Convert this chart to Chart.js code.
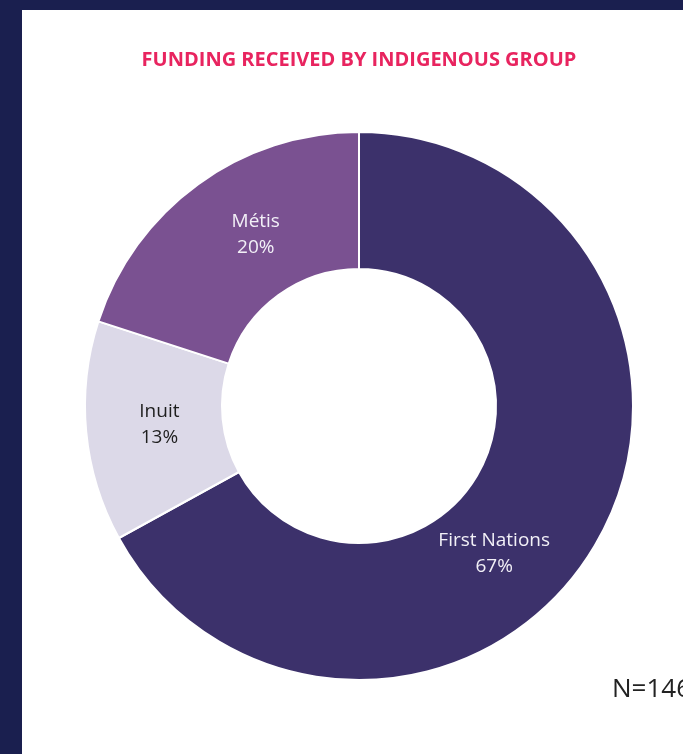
<!DOCTYPE html>
<html>
<head>
<meta charset="utf-8">
<script src="https://cdn.jsdelivr.net/npm/chart.js@4/dist/chart.umd.min.js"></script>
<style>
  html, body { margin: 0; padding: 0; }
  body { width: 683px; height: 754px; background: #1a1f4f; overflow: hidden; position: relative; font-family: "Open Sans", sans-serif; }
  #card { position: absolute; left: 22px; top: 10px; width: 674px; height: 744px; background: #fff; }
  #sample { position: absolute; left: 590px; top: 659px; font-size: 26px; color: #222; white-space: nowrap; }
</style>
</head>
<body>
<div id="card">
  <canvas id="groupChart" width="674" height="744"></canvas>
  <div id="sample">N=146</div>
</div>
<script>
const groups = ["First Nations", "Inuit", "Métis"];
const shares = [67, 13, 20];
const sliceColors = ["#3c316b", "#dcd9e8", "#7a5191"];
const labelColors = ["#f2f0f7", "#1e1e1e", "#f2f0f7"];
const labelShift = [17, 0, 5]; // degrees, nudges labels off the slice middle

const sliceLabels = {
  id: "sliceLabels",
  afterDatasetsDraw(chart) {
    const ctx = chart.ctx;
    const meta = chart.getDatasetMeta(0);
    ctx.save();
    ctx.font = "19px 'Open Sans'";
    ctx.textAlign = "center";
    ctx.textBaseline = "middle";
    meta.data.forEach((arc, i) => {
      const p = arc.getProps(["x", "y", "startAngle", "endAngle", "innerRadius", "outerRadius"], true);
      const a = (p.startAngle + p.endAngle) / 2 + labelShift[i] * Math.PI / 180;
      const r = (p.innerRadius + p.outerRadius) / 2 - 5;
      const x = p.x + Math.cos(a) * r;
      const y = p.y + Math.sin(a) * r;
      ctx.fillStyle = labelColors[i];
      ctx.fillText(groups[i], x, y - 13);
      ctx.fillText(shares[i] + "%", x, y + 13);
    });
    ctx.restore();
  }
};

new Chart(document.getElementById("groupChart").getContext("2d"), {
  type: "doughnut",
  data: {
    labels: groups,
    datasets: [{
      data: shares,
      backgroundColor: sliceColors,
      borderColor: "#ffffff",
      borderWidth: 2
    }]
  },
  options: {
    responsive: false,
    animation: false,
    cutout: "50%",
    layout: { padding: { left: 62, right: 62, top: 0, bottom: 73 } },
    plugins: {
      legend: { display: false },
      tooltip: { enabled: false },
      title: {
        display: true,
        text: "FUNDING RECEIVED BY INDIGENOUS GROUP",
        color: "#e8245f",
        font: { family: "'Open Sans'", size: 20, weight: "bold" },
        padding: { top: 38, bottom: 59 }
      }
    }
  },
  plugins: [sliceLabels]
});
</script>
</body>
</html>
